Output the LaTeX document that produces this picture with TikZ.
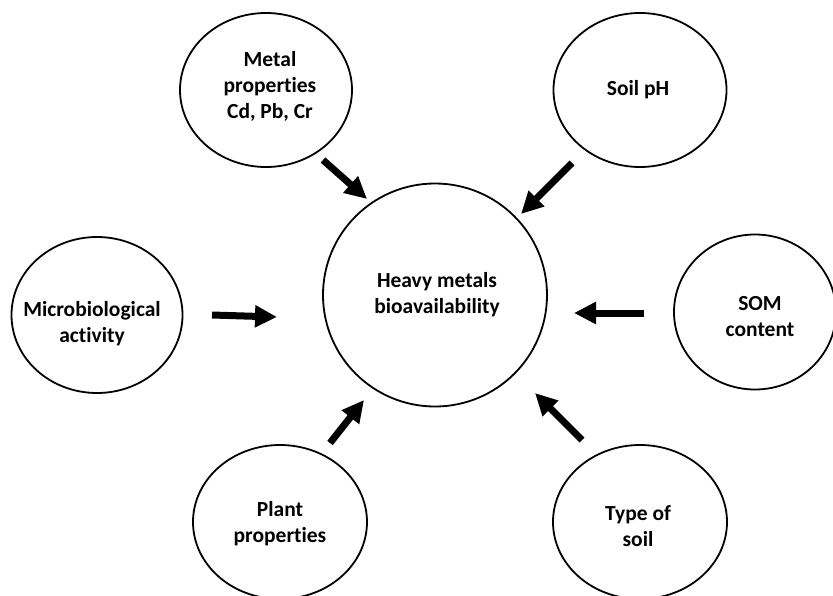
\documentclass[tikz,border=0pt]{standalone}
\usepackage{fontspec}
\setmainfont[RawFeature=-liga]{Carlito}
\usetikzlibrary{shapes.geometric,arrows.meta}
\tikzset{
  bubble/.style={draw=black, line width=1.8pt, ellipse, inner sep=0pt},
  caption/.style={align=center, inner sep=0pt, font=\fontsize{21.5}{26}\selectfont\bfseries},
  push/.style={line width=7pt, -{Triangle[length=22pt,width=21pt]}, line cap=butt}
}
\begin{document}
\begin{tikzpicture}[x=1pt,y=-1pt]
\useasboundingbox (0,0) rectangle (833,595);
\clip (0,0) rectangle (833,595);
\fill[white] (0,0) rectangle (833,595);
\node[bubble, minimum width=224pt, minimum height=223pt] (hm) at (435,295) {};
\node[bubble, minimum width=172pt, minimum height=154pt] (metal) at (266,90) {};
\node[bubble, minimum width=173pt, minimum height=154pt] (ph) at (640,90) {};
\node[bubble, minimum width=171pt, minimum height=156pt] (micro) at (97,315) {};
\node[bubble, minimum width=162pt, minimum height=155pt] (som) at (755,312) {};
\node[bubble, minimum width=174pt, minimum height=154pt] (plant) at (280,522) {};
\node[bubble, minimum width=174pt, minimum height=154pt] (soil) at (640,522) {};
\node[caption] (hmt) at (437,295) {Heavy metals\\bioavailability};
\node[caption] (metalt) at (270,86) {Metal\\properties\\Cd, Pb, Cr};
\node[caption] (pht) at (638,90) {Soil pH};
\node[caption] (microt) at (92,323.5) {Microbiological\\activity};
\node[caption] (somt) at (760,316.5) {SOM\\content};
\node[caption] (plantt) at (280,523.5) {Plant\\properties};
\node[caption] (soilt) at (638,526.5) {Type of\\soil};
\coordinate (a1) at (323,160); \coordinate (b1) at (367,199);
\coordinate (a2) at (572,163); \coordinate (b2) at (521,214);
\coordinate (a3) at (212,315); \coordinate (b3) at (277,317);
\coordinate (a4) at (644,313); \coordinate (b4) at (574,313);
\coordinate (a5) at (330,443); \coordinate (b5) at (364,400);
\coordinate (a6) at (582,440); \coordinate (b6) at (535,393);
\draw[push] (a1) -- (b1);
\draw[push] (a2) -- (b2);
\draw[push] (a3) -- (b3);
\draw[push] (a4) -- (b4);
\draw[push] (a5) -- (b5);
\draw[push] (a6) -- (b6);
\end{tikzpicture}
\end{document}
